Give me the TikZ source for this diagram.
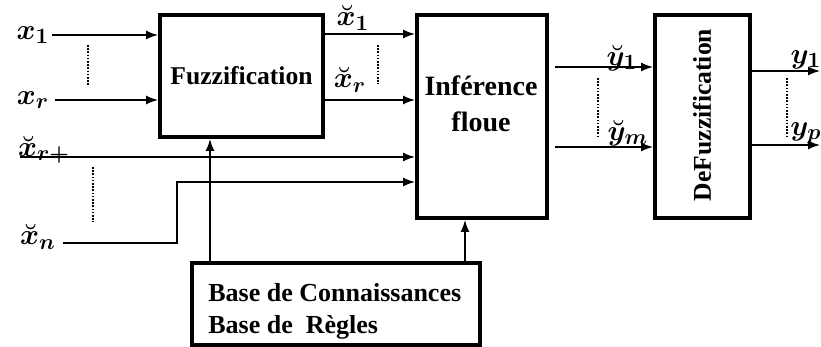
\documentclass[tikz,border=0pt]{standalone}
\usepackage{fontspec}
\setmainfont{Liberation Serif}
\usepackage{amsmath}
\usetikzlibrary{arrows.meta,positioning,calc}

\begin{document}
\begin{tikzpicture}[x=0.5pt, y=-0.5pt,
  blok/.style={draw, line width=2pt, inner sep=0pt, font=\fontsize{12.8}{15}\selectfont\bfseries},
  txt/.style={inner sep=0pt, font=\fontsize{12.8}{15}\selectfont\bfseries},
  var/.style={inner sep=0pt, font=\fontsize{15}{17}\selectfont\boldmath},
  arr/.style={-{Latex[length=6pt,width=4.5pt]}, line width=0.7pt},
  pts/.style={dash pattern=on 0.8pt off 0.8pt, line width=0.8pt}
]
  \useasboundingbox (0,0) rectangle (821,347);
  % blocs
  \node[blok, minimum width=81.5pt, minimum height=61pt] (fuzz) at (241.5,76) {Fuzzification};
  \node[blok, minimum width=65pt, minimum height=101.5pt] (infer) at (482,116.5) {};
  \node[txt, align=center, font=\fontsize{14}{16}\selectfont\bfseries] (inferlbl) at (481,104) {Inf\'erence\\[2pt]floue};
  \node[blok, minimum width=47.5pt, minimum height=101.5pt] (defuzz) at (702.5,116.5) {};
  \node[txt, rotate=90] (defuzzlbl) at (702,115) {DeFuzzification};
  \node[blok, minimum width=144pt, minimum height=41pt] (base) at (336,304) {};
  \node[txt, align=left, anchor=west, font=\fontsize{13}{16}\selectfont\bfseries] (baselbl) at (208,311) {Base de Connaissances\\Base de~~R\`egles};

  % entrees
  \node[var] (x1) at (33,35) {$x_1$};
  \node[var] (xr) at (33,100) {$x_r$};
  \node[var] (xrp) at (44,150) {$\breve{x}_{r+}$};
  \node[var] (xn) at (38,237) {$\breve{x}_n$};
  \coordinate (xrpin) at (20,157);
  \coordinate (xnin) at (63,243);
  \coordinate (bend) at (177,182);
  \draw[arr] (52,35) -- (fuzz.west |- 0,35);
  \draw[arr] (55,100) -- (fuzz.west |- 0,100);
  \draw[arr] (xrpin) -- (xrpin -| infer.west);
  \draw[arr] (xnin) -| (bend) -- (bend -| infer.west);
  \draw[pts] (88,45) -- (88,86);
  \draw[pts] (93,167) -- (93,222);

  % sorties fuzzification
  \node[var] (fx1) at (353,18) {$\breve{x}_1$};
  \node[var] (fxr) at (350,80) {$\breve{x}_r$};
  \draw[arr] (fuzz.east |- 0,34) -- (infer.west |- 0,34);
  \draw[arr] (fuzz.east |- 0,100) -- (infer.west |- 0,100);
  \draw[pts] (378,45) -- (378,84);

  % base de regles
  \coordinate (bf) at (210,0);
  \coordinate (bi) at (465,0);
  \draw[arr] (base.north -| bf) -- (fuzz.south -| bf);
  \draw[arr] (base.north -| bi) -- (infer.south -| bi);

  % inference -> defuzzification
  \node[var] (y1) at (622,58) {$\breve{y}_1$};
  \node[var] (ym) at (628,133) {$\breve{y}_m$};
  \coordinate (y1in) at (555,67);
  \coordinate (ymin) at (555,147);
  \draw[arr] (y1in) -- (y1in -| defuzz.west);
  \draw[arr] (ymin) -- (ymin -| defuzz.west);
  \draw[pts] (598,78) -- (598,136);

  % sorties
  \node[var] (oy1) at (806,60) {$y_1$};
  \node[var] (oyp) at (806,133) {$y_p$};
  \coordinate (o1) at (820,71);
  \coordinate (op) at (820,145);
  \draw[arr] (defuzz.east |- o1) -- (o1);
  \draw[arr] (defuzz.east |- op) -- (op);
  \draw[pts] (787,78) -- (787,136);
\end{tikzpicture}
\end{document}
